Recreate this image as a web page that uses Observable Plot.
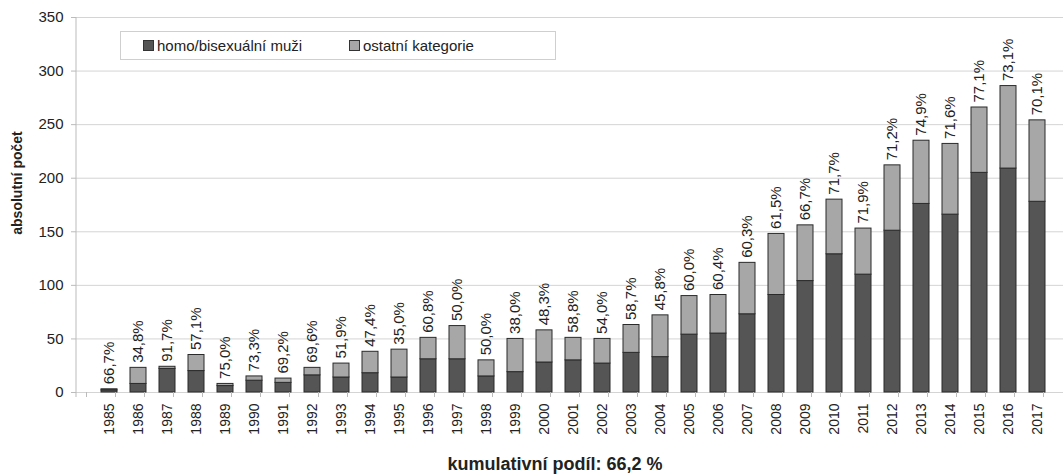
<!DOCTYPE html>
<html><head><meta charset="utf-8">
<script src="https://cdn.jsdelivr.net/npm/d3@7"></script>
<script src="https://cdn.jsdelivr.net/npm/@observablehq/plot@0.6"></script>
<style>
body{margin:0;background:#fff;font-family:"Liberation Sans",Arial,sans-serif;color:#222;}
#wrap{position:relative;width:1063px;height:474px;overflow:hidden;}
#ylab{position:absolute;left:17px;top:183px;transform:translate(-50%,-50%) rotate(-90deg);font-weight:bold;font-size:14px;white-space:nowrap;}
#legend{position:absolute;left:120px;top:31px;width:434px;height:27px;border:1px solid #cfcfcf;background:#fff;font-size:15px;}
#legend .it{position:absolute;top:5px;display:flex;align-items:center;white-space:nowrap;}
#legend .sw{width:9px;height:9px;border:1px solid #333;margin-right:3px;}
#cap{position:absolute;left:555px;top:454px;transform:translateX(-50%);font-weight:bold;font-size:18px;line-height:20px;white-space:nowrap;}
</style></head>
<body><div id="wrap"></div>
<script>
const years = ["1985","1986","1987","1988","1989","1990","1991","1992","1993","1994","1995","1996","1997","1998","1999","2000","2001","2002","2003","2004","2005","2006","2007","2008","2009","2010","2011","2012","2013","2014","2015","2016","2017"];
const categories = ["homo/bisexuální muži","ostatní kategorie"];
const homo = [2,8,22,20,6,11,9,16,14,18,14,31,31,15,19,28,30,27,37,33,54,55,73,91,104,129,110,151,176,166,205,209,178];
const other = [1,15,2,15,2,4,4,7,13,20,26,20,31,15,31,30,21,23,26,39,36,36,48,57,52,51,43,61,59,66,61,77,76];
const shareLabels = ["66,7%","34,8%","91,7%","57,1%","75,0%","73,3%","69,2%","69,6%","51,9%","47,4%","35,0%","60,8%","50,0%","50,0%","38,0%","48,3%","58,8%","54,0%","58,7%","45,8%","60,0%","60,4%","60,3%","61,5%","66,7%","71,7%","71,9%","71,2%","74,9%","71,6%","77,1%","73,1%","70,1%"];
const yTicks = [0,50,100,150,200,250,300,350];
const colors = ["#555555","#a7a7a7"];
const yTitle = "absolutní počet";
const caption = "kumulativní podíl: 66,2 %";

const rows = years.flatMap((y,i)=>[
  {year:y, cat:categories[0], v:homo[i]},
  {year:y, cat:categories[1], v:other[i]}
]);
const tops = years.map((y,i)=>({year:y, total:homo[i]+other[i], label:shareLabels[i]}));

const mL = 76, mT = 17, mB = 58, H = 450;
const chart = Plot.plot({
  width:1063, height:H,
  marginLeft:mL, marginRight:-7, marginTop:mT, marginBottom:mB,
  style:{fontFamily:"Liberation Sans, Arial, sans-serif", fontSize:"14px", color:"#222", background:"#fff"},
  x:{domain:years, padding:0.46, label:null},
  y:{domain:[0,350], label:null},
  color:{domain:categories, range:colors},
  marks:[
    Plot.gridY(yTicks, {stroke:"#d4d4d4", strokeOpacity:1}),
    Plot.axisY(yTicks, {tickSize:5, tickPadding:8, stroke:"#bbb", fill:"#222", fontSize:15, label:null}),
    Plot.axisX({tickRotate:-90, tickSize:0, tickPadding:11, fontSize:14, fill:"#222", label:null}),
    Plot.barY(rows, Plot.stackY({x:"year", y:"v", fill:"cat", order:categories, stroke:"#2a2a2a", strokeWidth:1})),
    Plot.text(tops, {x:"year", y:"total", text:"label", rotate:-90, textAnchor:"start", dy:-5, fontSize:15, fill:"#222"})
  ]
});
const wrap = document.getElementById("wrap");
wrap.appendChild(chart);
const svg = d3.select(chart);
const y0 = H - mB;
// y axis line
svg.append("line").attr("x1",mL).attr("x2",mL).attr("y1",mT).attr("y2",y0+5).attr("stroke","#bbb");
// x tick marks at category boundaries
const xs = chart.scale("x");
const step = xs.step;
const bounds = years.map(y => xs.apply(y) - (xs.bandwidth)/2 - (step - xs.bandwidth)/2);
bounds.push(bounds[bounds.length-1] + step);
svg.append("g").selectAll("line").data(bounds).join("line")
  .attr("x1",d=>d).attr("x2",d=>d).attr("y1",y0).attr("y2",y0+5).attr("stroke","#bbb");

const yl = document.createElement("div"); yl.id="ylab"; yl.textContent=yTitle; wrap.appendChild(yl);
const lg = document.createElement("div"); lg.id="legend";
const lpos = [22, 228];
categories.forEach((c,i)=>{
  const it = document.createElement("div"); it.className="it"; it.style.left = lpos[i]+"px";
  const sw = document.createElement("div"); sw.className="sw"; sw.style.background = colors[i];
  const t = document.createElement("span"); t.textContent = c;
  it.appendChild(sw); it.appendChild(t); lg.appendChild(it);
});
wrap.appendChild(lg);
const cp = document.createElement("div"); cp.id="cap"; cp.textContent=caption; wrap.appendChild(cp);
</script></body></html>
